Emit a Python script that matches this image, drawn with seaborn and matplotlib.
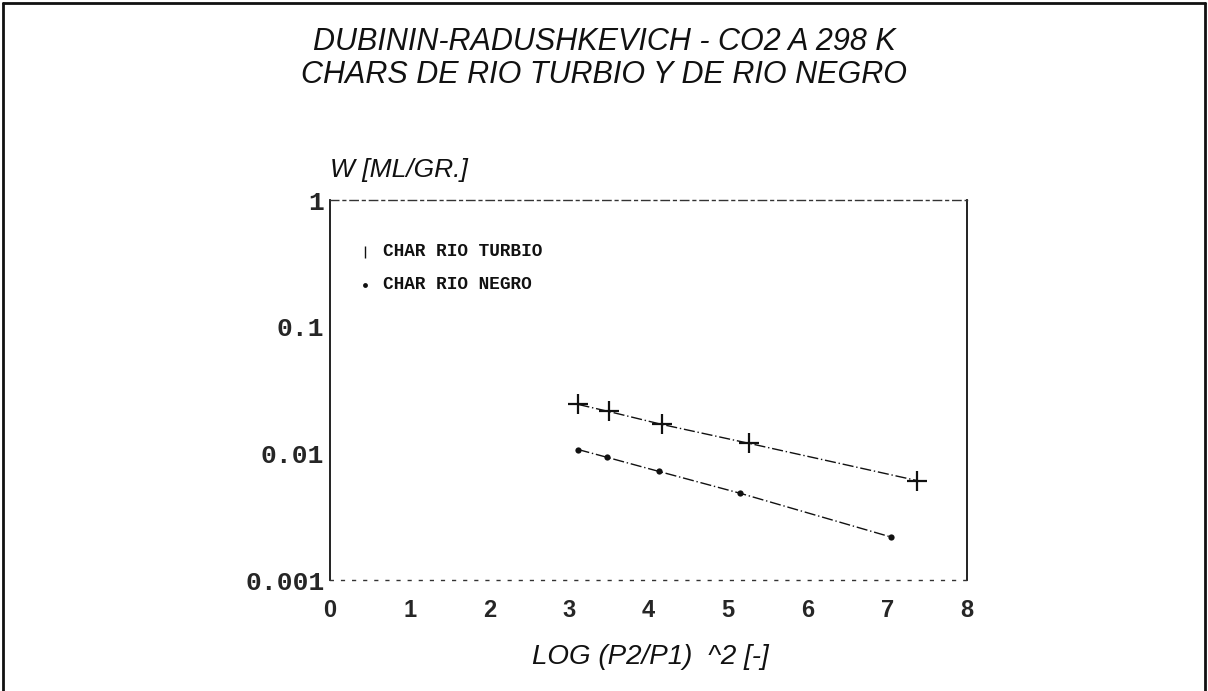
import matplotlib
matplotlib.use("Agg")
import matplotlib.pyplot as plt
import seaborn as sns
import pandas as pd
from matplotlib.lines import Line2D
from matplotlib.ticker import FixedLocator, NullLocator

# Data
turbio_x = [3.12, 3.50, 4.17, 5.26, 7.37]
turbio_w = [0.0243, 0.0214, 0.0169, 0.0120, 0.0061]
negro_x = [3.12, 3.48, 4.13, 5.15, 7.05]
negro_w = [0.0107, 0.0093, 0.0072, 0.00484, 0.00218]
x_ticks = [0, 1, 2, 3, 4, 5, 6, 7, 8]
y_ticks = [0.001, 0.01, 0.1, 1]
y_tick_labels = ["0.001", "0.01", "0.1", "1"]

df_t = pd.DataFrame({"x": turbio_x, "w": turbio_w})
df_n = pd.DataFrame({"x": negro_x, "w": negro_w})

sns.set_theme(style="white")
plt.rcParams["font.family"] = ["Liberation Sans", "DejaVu Sans"]

fig = plt.figure(figsize=(12.08, 6.91), dpi=100)
ax = fig.add_axes([330 / 1208, 1 - 580 / 691, 637 / 1208, 380 / 691])

ink = "#111111"
sns.lineplot(data=df_t, x="x", y="w", ax=ax, color=ink, lw=1.0,
             linestyle=(0, (8, 2, 1, 2)), marker="+", markersize=15,
             markeredgewidth=1.6, markeredgecolor=ink)
sns.lineplot(data=df_n, x="x", y="w", ax=ax, color=ink, lw=1.0,
             linestyle=(0, (8, 2, 1, 2)), marker="o", markersize=4.5,
             markeredgewidth=0, markerfacecolor=ink)

ax.set_yscale("log")
ax.set_xlim(0, 8)
ax.set_ylim(0.001, 1)
ax.xaxis.set_major_locator(FixedLocator(x_ticks))
ax.yaxis.set_major_locator(FixedLocator(y_ticks))
ax.yaxis.set_minor_locator(NullLocator())
ax.set_yticklabels(y_tick_labels, family=["Liberation Mono", "DejaVu Sans Mono"],
                   weight="bold", fontsize=19)
ax.set_xticklabels([str(t) for t in x_ticks],
                   family=["Liberation Sans Narrow", "Liberation Sans"],
                   weight="bold", fontsize=17)
ax.tick_params(axis="x", direction="inout", length=7, width=1, color=ink, pad=10)
ax.tick_params(axis="y", direction="inout", length=6, width=1, color=ink, pad=1)
ax.set_xlabel("")
ax.set_ylabel("")

for side in ["left", "right"]:
    ax.spines[side].set_color(ink)
    ax.spines[side].set_linewidth(1.3)
ax.spines["top"].set_color("#333333")
ax.spines["top"].set_linewidth(1.0)
ax.spines["top"].set_linestyle((0, (6, 3, 2, 3)))
ax.spines["bottom"].set_color("#333333")
ax.spines["bottom"].set_linewidth(1.0)
ax.spines["bottom"].set_linestyle((0, (2, 6)))

# legend drawn as text entries like the original
ax.plot([0.44], [0.39], marker="|", color=ink, markersize=9,
        markeredgewidth=1, linestyle="none")
ax.plot([0.44], [0.214], marker="o", color=ink, markersize=3.5,
        markeredgewidth=0, linestyle="none")
mono = ["Liberation Mono", "DejaVu Sans Mono"]
ax.text(0.666, 0.39, "CHAR RIO TURBIO", family=mono, weight="bold",
        fontsize=12.8, va="center", ha="left", color=ink)
ax.text(0.666, 0.214, "CHAR RIO NEGRO", family=mono, weight="bold",
        fontsize=12.8, va="center", ha="left", color=ink)

fig.text(604 / 1208, 1 - 42 / 691, "DUBININ-RADUSHKEVICH - CO2 A 298 K",
         ha="center", va="center", fontsize=22, style="italic", color=ink)
fig.text(604 / 1208, 1 - 75 / 691, "CHARS DE RIO TURBIO Y DE RIO NEGRO",
         ha="center", va="center", fontsize=22, style="italic", color=ink)
fig.text(330 / 1208, 1 - 170 / 691, "W [ML/GR.]", ha="left", va="center",
         fontsize=19, style="italic", color=ink)
fig.text(650 / 1208, 1 - 657 / 691, "LOG (P2/P1)  ^2 [-]", ha="center", va="center",
         fontsize=20, style="italic", color=ink)

# outer frame
for xs, ys in [([3 / 1208, 3 / 1208], [0, 1 - 3 / 691]),
               ([3 / 1208, 1205 / 1208], [1 - 3 / 691, 1 - 3 / 691]),
               ([1205 / 1208, 1205 / 1208], [0, 1 - 3 / 691])]:
    fig.add_artist(Line2D(xs, ys, transform=fig.transFigure, color=ink, lw=2))

fig.savefig("out.png", dpi=100)
